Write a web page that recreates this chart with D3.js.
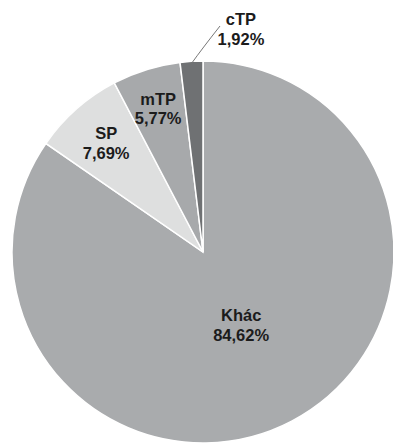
<!DOCTYPE html>
<html>
<head>
<meta charset="utf-8">
<script src="https://cdn.jsdelivr.net/npm/d3@7"></script>
<style>
  body { margin: 0; background: #fff; }
  text { font-family: "Liberation Sans", Arial, sans-serif; font-weight: bold; fill: #1c1c1c; }
</style>
</head>
<body>
<svg width="393" height="444"></svg>
<script>
// du lieu doc tu hinh
var labels = ["Khác", "SP", "mTP", "cTP"];
var values = [84.62, 7.69, 5.77, 1.92];
var valueText = ["84,62%", "7,69%", "5,77%", "1,92%"];
var colors = ["#a9abad", "#dedfdf", "#a7a9ab", "#6f7173"];

var svg = d3.select("svg"),
    cx = 203, cy = 252, radius = 191;

var g = svg.append("g").attr("transform", "translate(" + cx + "," + cy + ")");

var data = labels.map(function(d, i) { return {label: d, value: values[i], text: valueText[i], color: colors[i]}; });

var pie = d3.pie().sort(null).value(function(d) { return d.value; });
var arc = d3.arc().innerRadius(0).outerRadius(radius);
var arcs = pie(data);

g.selectAll("path")
  .data(arcs)
  .enter().append("path")
    .attr("d", arc)
    .attr("fill", function(d) { return d.data.color; })
    .attr("stroke", "#fff")
    .attr("stroke-width", 1.5);

// label radius per slice (fraction of radius), laatste ligt buiten de taart
var labelFrac = [0.43, 0.765, 0.79];

arcs.forEach(function(d, i) {
  var t;
  if (i < labelFrac.length) {
    var r = radius * labelFrac[i];
    var p = d3.arc().innerRadius(r).outerRadius(r).centroid(d);
    t = g.append("text").attr("x", p[0]).attr("y", p[1]).attr("text-anchor", "middle").style("font-size", "16.5px");
    t.append("tspan").attr("x", p[0]).attr("dy", "-0.2em").text(d.data.label);
    t.append("tspan").attr("x", p[0]).attr("dy", "1.2em").text(d.data.text);
  } else {
    // buitenlabel met lijntje
    var a = d3.arc().innerRadius(radius - 2).outerRadius(radius - 2).centroid(d);
    var tx = 38, ty = -227;
    g.append("path")
      .attr("d", "M" + a[0] + "," + a[1] + " Q" + (a[0] + 10) + "," + (a[1] - 14) + " " + (tx - 21) + "," + (ty + 1))
      .attr("fill", "none")
      .attr("stroke", "#777")
      .attr("stroke-width", 1);
    t = g.append("text").attr("x", tx).attr("y", ty).attr("text-anchor", "middle").style("font-size", "16.5px");
    t.append("tspan").attr("x", tx).attr("dy", "0").text(d.data.label);
    t.append("tspan").attr("x", tx).attr("dy", "1.2em").text(d.data.text);
  }
});
</script>
</body>
</html>
